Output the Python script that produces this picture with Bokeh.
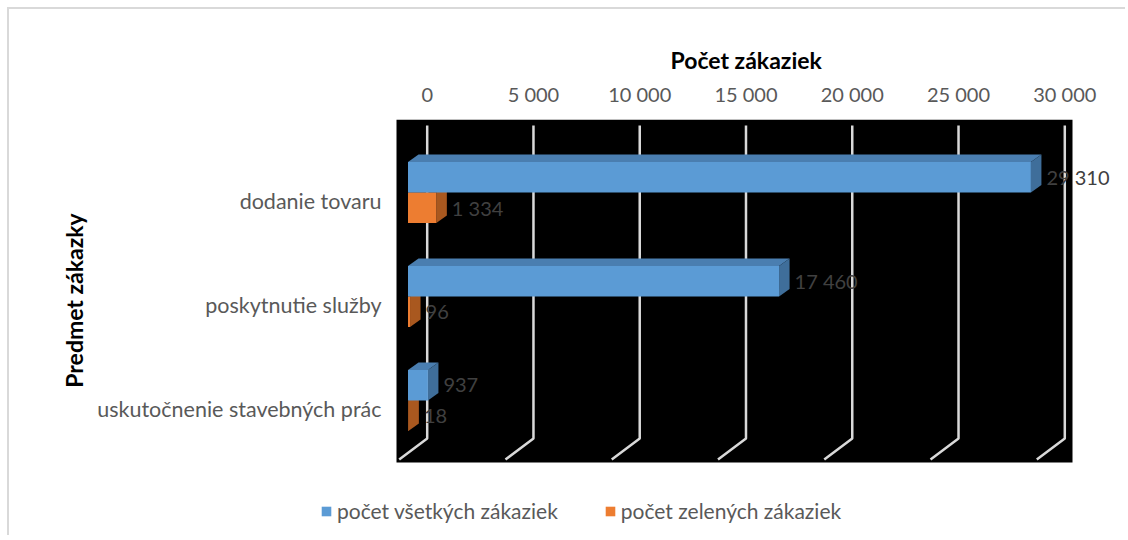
import math
from bokeh.plotting import figure
from bokeh.models import (Range1d, FixedTicker, LabelSet, Legend, LegendItem, Title,
                          ColumnDataSource)
from bokeh.core.properties import value
from bokeh.embed import file_html
from bokeh.resources import INLINE

# ---------------- data ----------------
categories = ["dodanie tovaru", "poskytnutie služby", "uskutočnenie stavebných prác"]
series_names = ["počet všetkých zákaziek", "počet zelených zákaziek"]
all_counts = [29310, 17460, 937]
green_counts = [1334, 96, 18]
x_ticks = [0, 5000, 10000, 15000, 20000, 25000, 30000]
x_tick_labels = ["0", "5 000", "10 000", "15 000", "20 000", "25 000", "30 000"]
x_title = "Počet zákaziek"
y_title = "Predmet zákazky"

# ---------------- style / layout ----------------
FONT = "Lato"
BLUE, BLUE_TOP, BLUE_SIDE = "#5B9BD5", "#4A7EB0", "#3F6E9A"
ORANGE, ORANGE_TOP, ORANGE_SIDE = "#ED7D31", "#C2672A", "#A9581F"
GRID = "#D9D9D9"
TXT = "#595959"
LBL = "#404040"

ORIGIN_X, ORIGIN_Y = 9, 9                     # page position of figure content
W, H = 1116, 526
FRAME_L, FRAME_R, FRAME_T, FRAME_B = ORIGIN_X, ORIGIN_X + W, 119, ORIGIN_Y + H
AREA_L, AREA_R, AREA_B = 396, 1072, 462       # black plot area (page px)
ZERO_PX = 426.7                               # page px of value 0 on the back wall
PX_PER_UNIT = 0.021253
Y0_PX, PX_PER_CAT = 200.0, 104.0              # page px of first category label

def px_to_x(px):
    return (px - ZERO_PX) / PX_PER_UNIT

def px_to_y(py):
    return (py - Y0_PX) / PX_PER_CAT

X_START, X_END = px_to_x(FRAME_L), px_to_x(FRAME_R)
Y_TOP, Y_BOTTOM = px_to_y(FRAME_T), px_to_y(FRAME_B)

FRONT_SHIFT = -19.2 / PX_PER_UNIT     # bar front face origin relative to back wall zero
DEPTH_X = 10.5 / PX_PER_UNIT
DEPTH_Y = 7.5 / PX_PER_CAT
BAR_H = 30.5 / PX_PER_CAT
GAP = 8.0 / PX_PER_CAT
GRID_TOP = px_to_y(125)
GRID_BEND = px_to_y(438)
GRID_END = px_to_y(459)
GRID_DX = -28 / PX_PER_UNIT

p = figure(width=W, height=H,
           x_range=Range1d(X_START, X_END), y_range=Range1d(Y_BOTTOM, Y_TOP),
           x_axis_location="above", y_axis_location=None,
           output_backend="svg", toolbar_location=None,
           frame_width=FRAME_R - FRAME_L, frame_height=FRAME_B - FRAME_T,
           min_border_left=0, min_border_right=0, min_border_bottom=0,
           min_border_top=FRAME_T - ORIGIN_Y)
p.styles = {"margin-left": "7px", "margin-top": "7px",
            "border-top": "2px solid #D9D9D9", "border-left": "2px solid #D9D9D9"}
p.background_fill_color = "white"
p.border_fill_color = "white"
p.outline_line_color = None
p.xgrid.grid_line_color = None
p.ygrid.grid_line_color = None

# black plot area
p.quad(left=px_to_x(AREA_L), right=px_to_x(AREA_R), top=Y_TOP, bottom=px_to_y(AREA_B),
       fill_color="black", line_color=None)

# back-wall / floor grid lines
p.multi_line(xs=[[t, t, t + GRID_DX] for t in x_ticks],
             ys=[[GRID_TOP, GRID_BEND, GRID_END] for _ in x_ticks],
             line_color=GRID, line_width=2.5)

cat_pos = list(range(len(categories)))

def draw_series(vals, blue):
    tops, bottoms = [], []
    for c in cat_pos:
        if blue:
            b = c - GAP
            t = b - BAR_H
        else:
            t = c - GAP
            b = t + BAR_H
        tops.append(t)
        bottoms.append(b)
    lefts = [FRONT_SHIFT] * len(vals)
    rights = [FRONT_SHIFT + v for v in vals]
    front_c, top_c, side_c = (BLUE, BLUE_TOP, BLUE_SIDE) if blue else (ORANGE, ORANGE_TOP, ORANGE_SIDE)
    p.patches(xs=[[l, r, r + DEPTH_X, l + DEPTH_X] for l, r in zip(lefts, rights)],
              ys=[[t, t, t - DEPTH_Y, t - DEPTH_Y] for t in tops],
              fill_color=top_c, line_color=None)
    p.patches(xs=[[r, r + DEPTH_X, r + DEPTH_X, r] for r in rights],
              ys=[[t, t - DEPTH_Y, b - DEPTH_Y, b] for t, b in zip(tops, bottoms)],
              fill_color=side_c, line_color=None)
    front = p.quad(left=lefts, right=rights, top=tops, bottom=bottoms,
                   fill_color=front_c, line_color=None)
    src = ColumnDataSource(dict(
        x=[r + DEPTH_X for r in rights],
        y=[(t + b) / 2 for t, b in zip(tops, bottoms)],
        text=[f"{v:,}".replace(",", " ") for v in vals]))
    p.add_layout(LabelSet(x="x", y="y", text="text", source=src, x_offset=5,
                          text_font=value(FONT), text_font_size="20px",
                          text_color=LBL, text_baseline="middle"))
    return front

r_green = draw_series(green_counts, blue=False)
r_all = draw_series(all_counts, blue=True)

# category labels (category axis)
p.text(x=[px_to_x(AREA_L - 15)] * len(categories), y=cat_pos, text=categories,
       text_align="right", text_baseline="middle", text_font=value(FONT),
       text_font_size="21.5px", text_color=TXT)

# y-axis title
p.text(x=[px_to_x(73)], y=[px_to_y(300)], text=[y_title], angle=math.pi / 2,
       text_align="center", text_baseline="middle", text_font=value(FONT),
       text_font_size="23px", text_font_style="bold", text_color="black")

# x axis (top)
xa = p.xaxis[0]
xa.ticker = FixedTicker(ticks=x_ticks)
xa.major_label_overrides = dict(zip(x_ticks, x_tick_labels))
xa.axis_line_color = None
xa.major_tick_line_color = None
xa.minor_tick_line_color = None
xa.major_label_text_font = FONT
xa.major_label_text_font_size = "20px"
xa.major_label_text_color = TXT
xa.major_label_standoff = 8

p.add_layout(Title(text=x_title, align="left", offset=745 - FRAME_L - 75, standoff=10,
                   text_font=FONT, text_font_size="23px", text_font_style="bold",
                   text_color="black"), "above")

legend = Legend(items=[LegendItem(label=series_names[0], renderers=[r_all]),
                       LegendItem(label=series_names[1], renderers=[r_green])],
                orientation="horizontal", location=(320 - FRAME_L, FRAME_B - 523),
                label_text_font=FONT, label_text_font_size="21px", label_text_color=TXT,
                glyph_width=12, glyph_height=12, label_standoff=5, spacing=46,
                padding=0, margin=0, border_line_color=None, background_fill_alpha=0)
p.add_layout(legend, "center")

open("out.html", "w").write(file_html(p, INLINE))
